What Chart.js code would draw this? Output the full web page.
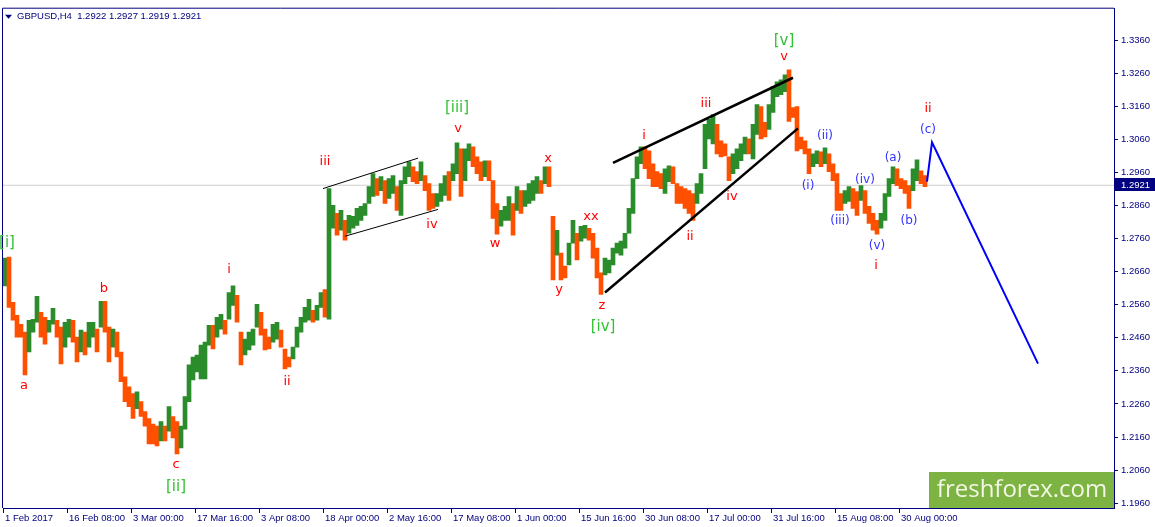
<!DOCTYPE html>
<html>
<head>
<title>GBPUSD H4</title>
<script src="https://cdn.jsdelivr.net/npm/chart.js"></script>
<style>
    body { margin: 0; background: #fff; }
    canvas { display: block; }
</style>
</head>
<body>
<canvas id="figure" width="1155" height="527"></canvas>
<script>
var symbol = 'GBPUSD,H4';
var lastQuote = [1.2922, 1.2927, 1.2919, 1.2921];

// one x unit = one H4 bar, a date label every 64 bars
var dateLabels = ['1 Feb 2017', '16 Feb 08:00', '3 Mar 00:00', '17 Mar 16:00', '3 Apr 08:00',
    '18 Apr 00:00', '2 May 16:00', '17 May 08:00', '1 Jun 00:00', '15 Jun 16:00',
    '30 Jun 08:00', '17 Jul 00:00', '31 Jul 16:00', '15 Aug 08:00', '30 Aug 00:00'];
var barsPerLabel = 64;
var barsPerGroup = 4;
var priceTicks = [1.1960, 1.2060, 1.2160, 1.2260, 1.2360, 1.2460, 1.2560, 1.2660,
    1.2760, 1.2860, 1.2960, 1.3060, 1.3160, 1.3260, 1.3360];

// high / low of each group of 4 H4 bars
var highs = [
    1.2701, 1.2704, 1.2567, 1.2528, 1.2501, 1.2477, 1.2513, 1.2516, 1.2585, 1.2537,
    1.2522, 1.2513, 1.2549, 1.2513, 1.2492, 1.2507, 1.2516, 1.2513, 1.2462, 1.2483,
    1.2477, 1.2507, 1.2507, 1.2486, 1.2570, 1.2570, 1.2492, 1.2486, 1.2477, 1.2417,
    1.2342, 1.2312, 1.2291, 1.2297, 1.2267, 1.2237, 1.2216, 1.2199, 1.2193, 1.2207,
    1.2193, 1.2252, 1.2222, 1.2207, 1.2193, 1.2282, 1.2378, 1.2402, 1.2408, 1.2438,
    1.2447, 1.2498, 1.2498, 1.2522, 1.2531, 1.2513, 1.2597, 1.2617, 1.2588, 1.2477,
    1.2456, 1.2477, 1.2486, 1.2561, 1.2537, 1.2486, 1.2462, 1.2501, 1.2507, 1.2483,
    1.2426, 1.2402, 1.2432, 1.2492, 1.2522, 1.2552, 1.2576, 1.2543, 1.2558, 1.2597,
    1.2606, 1.2911, 1.2860, 1.2836, 1.2845, 1.2815, 1.2830, 1.2827, 1.2851, 1.2857,
    1.2866, 1.2917, 1.2956, 1.2941, 1.2947, 1.2935, 1.2941, 1.2950, 1.2917, 1.2935,
    1.2977, 1.2992, 1.2977, 1.2962, 1.2992, 1.2950, 1.2926, 1.2896, 1.2896, 1.2926,
    1.2950, 1.2962, 1.2986, 1.3049, 1.3031, 1.3031, 1.3046, 1.3037, 1.3007, 1.2992,
    1.2995, 1.2995, 1.2935, 1.2866, 1.2845, 1.2857, 1.2887, 1.2866, 1.2917, 1.2905,
    1.2905, 1.2926, 1.2935, 1.2947, 1.2935, 1.2977, 1.2977, 1.2827, 1.2785, 1.2716,
    1.2677, 1.2746, 1.2815, 1.2776, 1.2797, 1.2800, 1.2791, 1.2776, 1.2731, 1.2656,
    1.2701, 1.2695, 1.2731, 1.2746, 1.2752, 1.2776, 1.2851, 1.2941, 1.3007, 1.3037,
    1.3037, 1.3025, 1.2986, 1.2962, 1.2956, 1.2971, 1.2980, 1.2977, 1.2926, 1.2917,
    1.2911, 1.2905, 1.2896, 1.2926, 1.2956, 1.3105, 1.3120, 1.3135, 1.3105, 1.3055,
    1.3046, 1.3007, 1.3016, 1.3031, 1.3046, 1.3067, 1.3061, 1.3105, 1.3165, 1.3159,
    1.3111, 1.3165, 1.3219, 1.3234, 1.3240, 1.3255, 1.3270, 1.3156, 1.3159, 1.3067,
    1.3055, 1.3031, 1.3016, 1.3025, 1.3022, 1.3034, 1.3016, 1.2986, 1.2956, 1.2896,
    1.2905, 1.2917, 1.2911, 1.2902, 1.2920, 1.2905, 1.2857, 1.2836, 1.2815, 1.2836,
    1.2896, 1.2941, 1.2977, 1.2971, 1.2941, 1.2935, 1.2920, 1.2971, 1.2998, 1.2965,
    1.2950
];
var lows = [
    1.2617, 1.2552, 1.2513, 1.2462, 1.2462, 1.2348, 1.2417, 1.2477, 1.2507, 1.2462,
    1.2441, 1.2477, 1.2501, 1.2462, 1.2381, 1.2432, 1.2462, 1.2447, 1.2387, 1.2417,
    1.2408, 1.2432, 1.2462, 1.2417, 1.2492, 1.2477, 1.2387, 1.2432, 1.2402, 1.2327,
    1.2267, 1.2252, 1.2216, 1.2246, 1.2222, 1.2193, 1.2139, 1.2139, 1.2133, 1.2148,
    1.2148, 1.2178, 1.2157, 1.2109, 1.2127, 1.2184, 1.2267, 1.2333, 1.2357, 1.2336,
    1.2336, 1.2438, 1.2426, 1.2462, 1.2486, 1.2471, 1.2516, 1.2558, 1.2507, 1.2378,
    1.2408, 1.2423, 1.2438, 1.2492, 1.2468, 1.2423, 1.2426, 1.2447, 1.2456, 1.2432,
    1.2366, 1.2372, 1.2396, 1.2432, 1.2477, 1.2507, 1.2513, 1.2507, 1.2513, 1.2552,
    1.2522, 1.2516, 1.2791, 1.2770, 1.2785, 1.2755, 1.2776, 1.2791, 1.2800, 1.2815,
    1.2830, 1.2866, 1.2887, 1.2890, 1.2905, 1.2866, 1.2881, 1.2896, 1.2845, 1.2830,
    1.2926, 1.2947, 1.2932, 1.2926, 1.2935, 1.2905, 1.2845, 1.2851, 1.2857, 1.2872,
    1.2890, 1.2875, 1.2935, 1.2956, 1.2887, 1.2935, 1.2995, 1.2977, 1.2956, 1.2935,
    1.2947, 1.2935, 1.2821, 1.2773, 1.2797, 1.2815, 1.2815, 1.2770, 1.2845, 1.2836,
    1.2857, 1.2866, 1.2875, 1.2896, 1.2896, 1.2926, 1.2917, 1.2635, 1.2710, 1.2635,
    1.2641, 1.2680, 1.2746, 1.2695, 1.2752, 1.2761, 1.2755, 1.2701, 1.2641, 1.2591,
    1.2650, 1.2656, 1.2680, 1.2716, 1.2710, 1.2731, 1.2776, 1.2836, 1.2941, 1.2986,
    1.2971, 1.2941, 1.2917, 1.2917, 1.2911, 1.2896, 1.2932, 1.2926, 1.2866, 1.2866,
    1.2851, 1.2836, 1.2815, 1.2866, 1.2896, 1.2971, 1.3061, 1.3046, 1.3016, 1.3007,
    1.3010, 1.2935, 1.2956, 1.2971, 1.2995, 1.3016, 1.3016, 1.3001, 1.3075, 1.3061,
    1.3067, 1.3090, 1.3141, 1.3189, 1.3195, 1.3204, 1.3114, 1.3126, 1.3025, 1.3031,
    1.3016, 1.2956, 1.2977, 1.2986, 1.2977, 1.2986, 1.2962, 1.2935, 1.2845, 1.2845,
    1.2866, 1.2872, 1.2851, 1.2830, 1.2875, 1.2836, 1.2806, 1.2785, 1.2773, 1.2791,
    1.2815, 1.2887, 1.2926, 1.2920, 1.2911, 1.2896, 1.2851, 1.2905, 1.2935, 1.2926,
    1.2917
];

// trend lines: [bar, price] at each end
var channelUpper = [[320, 1.2911], [415, 1.3003]];
var channelLower = [[342, 1.2767], [435, 1.2848]];
var wedgeUpper = [[610, 1.2989], [790, 1.3246]];
var wedgeLower = [[602, 1.2597], [795, 1.3093]];
var forecastBars = [924, 929, 1035];
var forecastPrices = [1.2932, 1.3051, 1.2382];

// wave marks: text, bar, price, degree
var waveLabels = [
    ['[i]', 4, 1.2746, 'g'], ['[ii]', 173, 1.2008, 'g'], ['[iii]', 454, 1.3153, 'g'],
    ['[iv]', 600, 1.2492, 'g'], ['[v]', 781, 1.3356, 'g'],
    ['a', 21, 1.2316, 'r'], ['b', 101, 1.2609, 'r'], ['c', 173, 1.2077, 'r'],
    ['i', 226, 1.2666, 'r'], ['ii', 284, 1.2327, 'r'], ['iii', 322, 1.2992, 'r'],
    ['iv', 429, 1.2803, 'r'], ['v', 455, 1.3093, 'r'], ['w', 492, 1.2744, 'r'],
    ['x', 545, 1.3001, 'r'], ['y', 556, 1.2606, 'r'], ['xx', 588, 1.2827, 'r'],
    ['z', 599, 1.2558, 'r'], ['i', 641, 1.3072, 'r'], ['ii', 687, 1.2765, 'r'],
    ['iii', 703, 1.3168, 'r'], ['iv', 729, 1.2887, 'r'], ['v', 781, 1.3309, 'r'],
    ['i', 873, 1.2678, 'r'], ['ii', 925, 1.3153, 'r'],
    ['(i)', 805, 1.2920, 'b'], ['(ii)', 822, 1.3069, 'b'], ['(iii)', 837, 1.2812, 'b'],
    ['(iv)', 862, 1.2938, 'b'], ['(v)', 874, 1.2738, 'b'], ['(a)', 890, 1.3004, 'b'],
    ['(b)', 906, 1.2812, 'b'], ['(c)', 925, 1.3087, 'b']
];

var navy = '#000080';
var upColor = '#2a8c2a';
var downColor = '#ff5000';
var labelStyle = {
    g: { color: '#33c233', font: '15px "DejaVu Sans"' },
    r: { color: '#ff0000', font: '13px "DejaVu Sans"' },
    b: { color: '#3333ff', font: '12px "DejaVu Sans"' }
};
var axisFont = { family: 'Liberation Sans', size: 9.5 };

function pairs(arr) {
    return arr.map(function (p) { return { x: p[0], y: p[1] }; });
}

var groups = highs.map(function (h, i) {
    return { x: i * barsPerGroup + barsPerGroup / 2, y: [lows[i], h] };
});
var groupColors = highs.map(function (h, i) {
    if (i === 0) return upColor;
    var mid = (h + lows[i]) / 2;
    var prev = (highs[i - 1] + lows[i - 1]) / 2;
    return mid >= prev ? upColor : downColor;
});
var lastBar = 1111;

var decorations = {
    id: 'decorations',
    afterDraw: function (chart) {
        var ctx = chart.ctx;
        var xs = chart.scales.x, ys = chart.scales.y;
        var area = chart.chartArea;
        ctx.save();

        // frame on the left and top
        ctx.strokeStyle = navy;
        ctx.lineWidth = 1;
        ctx.beginPath();
        ctx.moveTo(area.left - 0.5, area.bottom);
        ctx.lineTo(area.left - 0.5, area.top - 0.5);
        ctx.lineTo(area.right, area.top - 0.5);
        ctx.stroke();

        // symbol line
        ctx.fillStyle = navy;
        ctx.beginPath();
        ctx.moveTo(area.left + 2, area.top + 6);
        ctx.lineTo(area.left + 9, area.top + 6);
        ctx.lineTo(area.left + 5.5, area.top + 10);
        ctx.closePath();
        ctx.fill();
        ctx.font = '9.5px "Liberation Sans"';
        ctx.textBaseline = 'middle';
        ctx.textAlign = 'left';
        ctx.fillText(symbol + '  ' + lastQuote.map(function (v) { return v.toFixed(4); }).join(' '),
            area.left + 14, area.top + 8);

        // wave marks
        ctx.textAlign = 'center';
        waveLabels.forEach(function (w) {
            var st = labelStyle[w[3]];
            ctx.fillStyle = st.color;
            ctx.font = st.font;
            ctx.fillText(w[0], xs.getPixelForValue(w[1]), ys.getPixelForValue(w[2]));
        });

        // current price tag
        var py = Math.round(ys.getPixelForValue(lastQuote[3]));
        ctx.fillStyle = navy;
        ctx.fillRect(area.right + 1, py - 7, chart.width - area.right - 1, 13);
        ctx.fillStyle = '#ffffff';
        ctx.font = '9.5px "Liberation Sans"';
        ctx.textAlign = 'left';
        ctx.fillText(lastQuote[3].toFixed(4), area.right + 7, py);

        // watermark
        ctx.fillStyle = '#7cb342';
        ctx.fillRect(area.right - 185, area.bottom - 36, 185, 36);
        ctx.fillStyle = '#f3f6e4';
        ctx.font = '24px "Open Sans"';
        ctx.textAlign = 'center';
        ctx.fillText('freshforex.com', area.right - 92, area.bottom - 18);
        ctx.restore();
    }
};

function lineSet(points, color, width) {
    return {
        type: 'line', data: points, borderColor: color, borderWidth: width,
        pointRadius: 0, fill: false, tension: 0, order: 1
    };
}

new Chart(document.getElementById('figure').getContext('2d'), {
    type: 'bar',
    data: {
        datasets: [
            {
                type: 'line', data: [{ x: 0, y: lastQuote[3] }, { x: lastBar, y: lastQuote[3] }],
                borderColor: '#cfcfcf', borderWidth: 1, pointRadius: 0, order: 10
            },
            {
                type: 'bar', data: groups, backgroundColor: groupColors,
                barThickness: 4, borderWidth: 0, grouped: false, order: 5
            },
            lineSet(pairs(channelUpper), '#000000', 1),
            lineSet(pairs(channelLower), '#000000', 1),
            lineSet(pairs(wedgeUpper), '#000000', 2.5),
            lineSet(pairs(wedgeLower), '#000000', 2.5),
            lineSet(forecastBars.map(function (b, i) { return { x: b, y: forecastPrices[i] }; }), '#0000ff', 2)
        ]
    },
    options: {
        responsive: false,
        animation: false,
        layout: { padding: { left: 3, top: 3, right: 0, bottom: 0 } },
        plugins: { legend: { display: false }, tooltip: { enabled: false } },
        scales: {
            x: {
                type: 'linear', position: 'bottom', min: 0, max: lastBar, offset: false,
                grid: { display: true, offset: false, drawOnChartArea: false, drawTicks: true, tickLength: 5, color: navy },
                border: { display: true, color: navy },
                ticks: {
                    autoSkip: false, maxRotation: 0, align: 'start', labelOffset: 2, padding: 0,
                    color: navy, font: axisFont,
                    callback: function (v, i) { return dateLabels[i]; }
                },
                afterBuildTicks: function (s) {
                    s.ticks = dateLabels.map(function (d, i) { return { value: i * barsPerLabel }; });
                },
                afterFit: function (s) { s.height = 19; }
            },
            y: {
                type: 'linear', position: 'right', min: 1.19455, max: 1.34547,
                grid: { display: true, drawOnChartArea: false, drawTicks: true, tickLength: 4, color: navy },
                border: { display: true, color: navy },
                ticks: {
                    crossAlign: 'near', padding: 3, color: navy, font: axisFont,
                    callback: function (v) { return v.toFixed(4); }
                },
                afterBuildTicks: function (s) {
                    s.ticks = priceTicks.map(function (p) { return { value: p }; });
                },
                afterFit: function (s) { s.width = 41; }
            }
        }
    },
    plugins: [decorations]
});
</script>
</body>
</html>
